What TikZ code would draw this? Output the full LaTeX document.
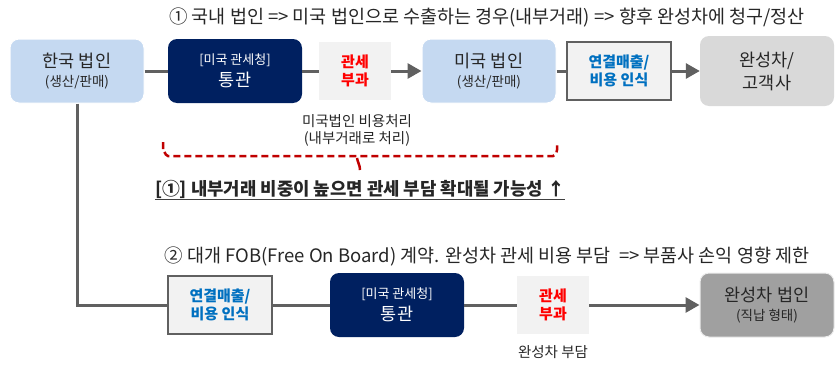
\documentclass[tikz,border=0pt]{standalone}
\usepackage{fontspec}
\setmainfont{Noto Sans CJK KR}
\newfontfamily\kr{Noto Sans CJK KR}
\usetikzlibrary{arrows.meta}
\definecolor{navy}{HTML}{002060}
\definecolor{lblue}{HTML}{C5D9F1}
\definecolor{lgray}{HTML}{F2F2F2}
\definecolor{mgray}{HTML}{D9D9D9}
\definecolor{dgray}{HTML}{A0A0A0}
\definecolor{linec}{HTML}{606060}
\definecolor{bluet}{HTML}{0070C0}
\definecolor{braced}{HTML}{C00000}
\newcommand{\bigt}{\fontsize{17.5}{19}\selectfont}
\newcommand{\smallt}{\fontsize{13.5}{16}\selectfont}
\newcommand{\smallu}{\fontsize{13}{14}\selectfont}
\newcommand{\bigu}{\fontsize{17.5}{22}\selectfont}
\begin{document}
\begin{tikzpicture}[x=1pt,y=-1pt,
  base/.style={align=center,inner sep=0pt,font=\kr},
  bluebox/.style={base,draw=white,line width=1pt,fill=lblue,rounded corners=9pt,minimum width=134pt,minimum height=64pt,text=black!85,font=\kr\bigt},
  navybox/.style={base,fill=navy,text=white,rounded corners=9pt,minimum width=134pt,minimum height=64pt,font=\kr\bigu},
  taxbox/.style={base,fill=lgray,text=red,minimum width=72pt,minimum height=58pt,font=\kr\bfseries\fontsize{15}{18}\selectfont},
  recbox/.style={base,fill=lgray,draw=linec,line width=1.5pt,text=bluet,minimum width=104pt,minimum height=58pt,font=\kr\bfseries\fontsize{15}{18}\selectfont},
  graybox/.style={base,fill=mgray,rounded corners=9pt,minimum width=134pt,minimum height=70pt,text=black!85,font=\kr\fontsize{17.5}{23}\selectfont},
  dgraybox/.style={base,fill=dgray,draw=white!80!dgray,line width=1pt,rounded corners=9pt,minimum width=134pt,minimum height=64pt,text=black!85,font=\kr\bigt},
  conn/.style={draw=linec,line width=3pt},
  arr/.style={conn,-{Triangle[length=14pt,width=15pt]}},
  lbl/.style={base,font=\kr\fontsize{18.5}{21}\selectfont,text=black!85}
]
\useasboundingbox (0,0) rectangle (839,367);

% title 1
\node[lbl] (t1) at (487,17) {① 국내 법인 => 미국 법인으로 수출하는 경우(내부거래) => 향후 완성차에 청구/정산};

% top row
\node[bluebox] (kr) at (77,71) {한국 법인\\ \smallt (생산/판매)};
\node[navybox] (cus1) at (235,71) {\smallu [미국 관세청]\\ 통관};
\node[taxbox] (tax1) at (355,71) {관세\\부과};
\node[bluebox] (us) at (489,71) {미국 법인\\ \smallt (생산/판매)};
\node[recbox] (rec1) at (619,71) {연결매출/\\비용 인식};
\node[graybox] (oem) at (767,71) {완성차/\\고객사};

\draw[conn] (kr.east) -- (cus1.west);
\draw[conn] (cus1.east) -- (tax1.west);
\draw[arr] (tax1.east) -- (us.west);
\draw[conn] (us.east) -- (rec1.west);
\draw[arr] (rec1.east) -- (oem.west);

% note
\node[lbl,font=\kr\fontsize{14.5}{17}\selectfont] (note) at (357,130) {미국법인 비용처리\\(내부거래로 처리)};

% brace
\draw[braced,line width=2.5pt,dash pattern=on 7pt off 4pt]
  (163,142) -- (163,150) to[out=90,in=180] (168,156) -- (553,156) to[out=0,in=-90] (557,150) -- (557,142);
\draw[braced,line width=2.5pt] (357,158) to[out=-80,in=90] (360,170);

% conclusion
\node[base,font=\kr\bfseries\fontsize{17.8}{20}\selectfont,text=black!85] (concl) at (360,189) {[①] 내부거래 비중이 높으면 관세 부담 확대될 가능성 ↑};
\draw[black!75,line width=1pt] (concl.south west |- 0,199) -- (concl.south east |- 0,199);

% title 2
\node[lbl] (t2) at (487,256) {② 대개 FOB(Free On Board) 계약. 완성차 관세 비용 부담\ \ => 부품사 손익 영향 제한};

% bottom row
\node[recbox] (rec2) at (220,305) {연결매출/\\비용 인식};
\node[navybox] (cus2) at (397,305) {\smallu [미국 관세청]\\ 통관};
\node[taxbox] (tax2) at (553,305) {관세\\부과};
\node[dgraybox] (oem2) at (767,305) {완성차 법인\\ \smallt (직납 형태)};
\node[lbl,font=\kr\fontsize{14.5}{17}\selectfont] (burden) at (553,352) {완성차 부담};

\draw[conn] (kr.south) |- (rec2.west);
\draw[conn] (rec2.east) -- (cus2.west);
\draw[conn] (cus2.east) -- (tax2.west);
\draw[arr] (tax2.east) -- (oem2.west);
\end{tikzpicture}
\end{document}
